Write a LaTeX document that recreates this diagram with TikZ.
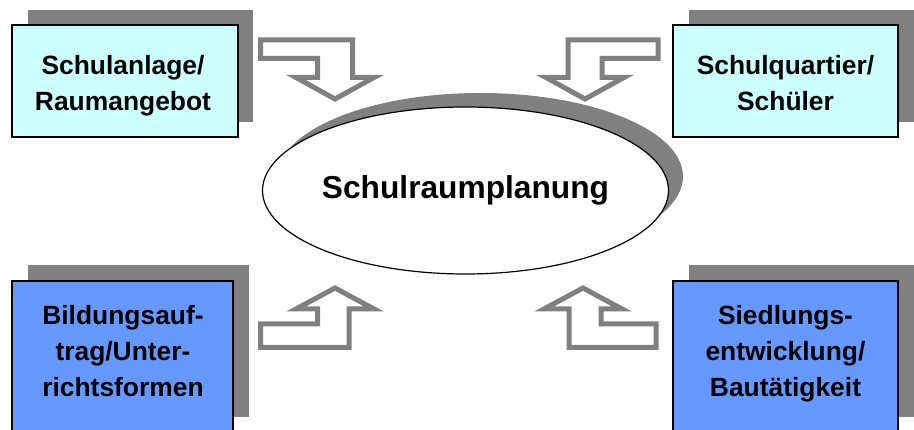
\documentclass[tikz,border=0pt]{standalone}
\usepackage{fontspec}
\setmainfont{Liberation Sans}
\usetikzlibrary{shapes.geometric}
\definecolor{shadowgray}{HTML}{808080}
\definecolor{lightcyan}{HTML}{CCFFFF}
\definecolor{midblue}{HTML}{6699FF}
\tikzset{
  shadowrect/.style={rectangle, fill=shadowgray, draw=none, inner sep=0pt},
  frontbox/.style={rectangle, draw=black, line width=1.4pt, inner sep=0pt},
  cyanbox/.style={frontbox, fill=lightcyan},
  bluebox/.style={frontbox, fill=midblue},
  boxtext/.style={align=center, text width=220pt, inner sep=0pt,
    font=\fontsize{26.4pt}{35.8pt}\selectfont\bfseries},
  blockarrow/.style={draw=shadowgray, fill=white, line width=5pt, line join=miter},
}
\begin{document}
\begin{tikzpicture}[x=1pt,y=-1pt]
\useasboundingbox (0,0) rectangle (914,430);
\clip (0,0) rectangle (914,430);

% box shadows
\node[shadowrect, minimum width=225, minimum height=112] (tlS) at (140.5,66) {};
\node[shadowrect, minimum width=225, minimum height=112] (trS) at (801.5,66) {};
\node[shadowrect, minimum width=221, minimum height=152] (blS) at (138.5,341) {};
\node[shadowrect, minimum width=225, minimum height=152] (brS) at (801.5,341) {};

% front boxes
\node[cyanbox, minimum width=226, minimum height=112] (tl) at (125,81) {};
\node[cyanbox, minimum width=225, minimum height=112] (tr) at (785.5,81) {};
\node[bluebox, minimum width=221, minimum height=152] (bl) at (122.5,357) {};
\node[bluebox, minimum width=225, minimum height=152] (br) at (785.5,357) {};

% box texts
\node[boxtext, anchor=base] (tlT) at (123,74.5) {Schulanlage/\\Raumangebot};
\node[boxtext, anchor=base] (trT) at (785.5,74.5) {Schulquartier/\\Schüler};
\node[boxtext, anchor=base] (blT) at (123,324.5) {Bildungsauf-\\trag/Unter-\\richtsformen};
\node[boxtext, anchor=base] (brT) at (785.5,324.5) {Siedlungs-\\entwicklung/\\Bautätigkeit};

% central ellipse with shadow
\node[ellipse, fill=shadowgray, draw=none, minimum width=405, minimum height=167, inner sep=0pt] (ellS) at (480.5,176.5) {};
\node[ellipse, fill=white, draw=black, line width=1.2pt, minimum width=405, minimum height=167, inner sep=0pt,
  font=\fontsize{31.7pt}{38pt}\selectfont\bfseries] (center) at (465.5,190.5) {Schulraumplanung};

% block arrows
\draw[blockarrow] (260.5,40) -- (352.5,40) -- (352.5,77.5) -- (374,77.5) -- (335,99) -- (296,77.5) -- (317.5,77.5) -- (317.5,58.5) -- (260.5,58.5) -- cycle;
\draw[blockarrow] (658,40) -- (568,40) -- (568,77.5) -- (546,77.5) -- (585,99) -- (624,77.5) -- (602,77.5) -- (602,58.5) -- (658,58.5) -- cycle;
\draw[blockarrow] (260.5,347.5) -- (260.5,324) -- (317.5,324) -- (317.5,309) -- (296,309) -- (335,288) -- (374,309) -- (349,309) -- (349,347.5) -- cycle;
\draw[blockarrow] (656,347.5) -- (656,324) -- (601,324) -- (601,309) -- (622,309) -- (583,288) -- (544,309) -- (569,309) -- (569,347.5) -- cycle;
\end{tikzpicture}
\end{document}
